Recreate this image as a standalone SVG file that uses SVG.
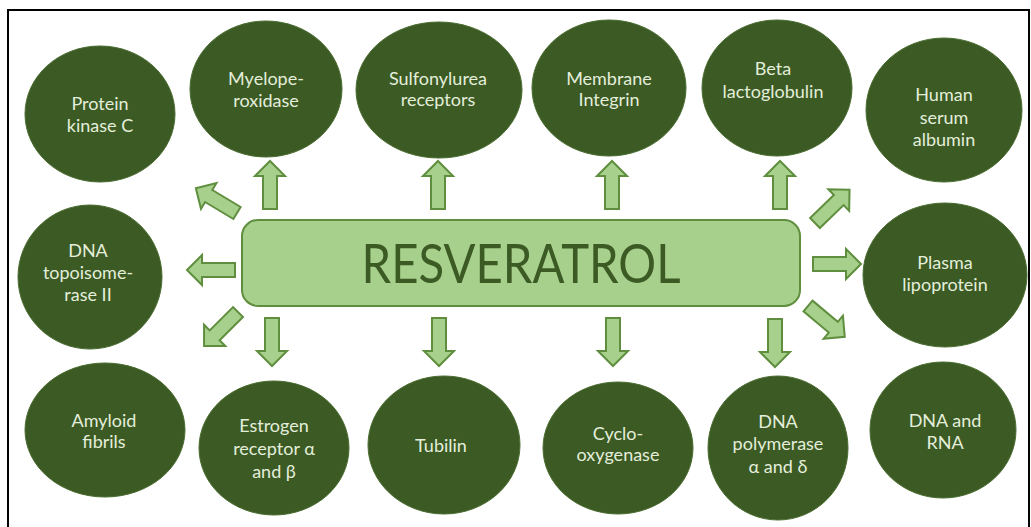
<svg xmlns="http://www.w3.org/2000/svg" width="1031" height="527" viewBox="0 0 1031 527">
<defs>
<style>
.n{fill:#3b5a24;stroke:#4b6d31;stroke-width:1}
.t{font-family:Lato,"Open Sans",sans-serif;font-size:18px;fill:#e4eedb;text-anchor:middle}
.a{fill:#a8d08d;stroke:#5f8f3e;stroke-width:2;stroke-linejoin:miter}
</style>
<path id="arr" d="M0,-7 H33 V-15 L48,0 L33,15 V7 H0 Z"/>
</defs>
<rect x="0" y="0" width="1031" height="527" fill="#fff"/>
<rect x="8" y="10" width="1021" height="530" fill="none" stroke="#000" stroke-width="2"/>

<g id="connectors">
<use href="#arr" class="a" transform="translate(270,209) rotate(-90)"/>
<use href="#arr" class="a" transform="translate(438,209) rotate(-90)"/>
<use href="#arr" class="a" transform="translate(612,209) rotate(-90)"/>
<use href="#arr" class="a" transform="translate(780,209) rotate(-90)"/>
<use href="#arr" class="a" transform="translate(272,318) rotate(90)"/>
<use href="#arr" class="a" transform="translate(439,318) rotate(90)"/>
<use href="#arr" class="a" transform="translate(613,318) rotate(90)"/>
<use href="#arr" class="a" transform="translate(775,319) rotate(90)"/>
<use href="#arr" class="a" transform="translate(235,270) rotate(180)"/>
<use href="#arr" class="a" transform="translate(813,264)"/>
<use href="#arr" class="a" transform="translate(237,213) rotate(-149)"/>
<use href="#arr" class="a" transform="translate(238,312) rotate(135)"/>
<use href="#arr" class="a" transform="translate(815,223) rotate(-44)"/>
<use href="#arr" class="a" transform="translate(808,306) rotate(40)"/>
</g>

<g id="resveratrol">
<rect x="242" y="220" width="558" height="86" rx="16" fill="#a8d08d" stroke="#5f8f3e" stroke-width="2"/>
<text x="521" y="283" font-family="Lato,'Open Sans',sans-serif" font-size="54" fill="#3b5a24" text-anchor="middle" textLength="319" lengthAdjust="spacingAndGlyphs">RESVERATROL</text>
</g>

<g id="protein-kinase-c"><ellipse class="n" cx="100" cy="114" rx="75" ry="68"/><text class="t" x="100" y="110">Protein</text><text class="t" x="100" y="132">kinase C</text></g>
<g id="myeloperoxidase"><ellipse class="n" cx="266" cy="89" rx="76" ry="68"/><text class="t" x="266" y="85">Myelope-</text><text class="t" x="266" y="107">roxidase</text></g>
<g id="sulfonylurea"><ellipse class="n" cx="439" cy="90" rx="83" ry="68"/><text class="t" x="438" y="85">Sulfonylurea</text><text class="t" x="438" y="106">receptors</text></g>
<g id="membrane-integrin"><ellipse class="n" cx="609" cy="88" rx="77" ry="68"/><text class="t" x="609" y="85">Membrane</text><text class="t" x="609" y="106">Integrin</text></g>
<g id="beta-lactoglobulin"><ellipse class="n" cx="777" cy="88" rx="75" ry="68"/><text class="t" x="773" y="75">Beta</text><text class="t" x="773" y="98">lactoglobulin</text></g>
<g id="human-serum-albumin"><ellipse class="n" cx="944" cy="110" rx="78" ry="72"/><text class="t" x="944" y="101">Human</text><text class="t" x="944" y="124">serum</text><text class="t" x="944" y="146">albumin</text></g>
<g id="dna-topoisomerase"><ellipse class="n" cx="90" cy="277" rx="72" ry="72"/><text class="t" x="88" y="257">DNA</text><text class="t" x="88" y="279">topoisome-</text><text class="t" x="88" y="301">rase II</text></g>
<g id="plasma-lipoprotein"><ellipse class="n" cx="945" cy="275" rx="82" ry="72"/><text class="t" x="945" y="269">Plasma</text><text class="t" x="945" y="291">lipoprotein</text></g>
<g id="amyloid-fibrils"><ellipse class="n" cx="105" cy="430" rx="80" ry="67"/><text class="t" x="104" y="427">Amyloid</text><text class="t" x="104" y="448">fibrils</text></g>
<g id="estrogen-receptor"><ellipse class="n" cx="274" cy="448" rx="75" ry="67"/><text class="t" x="274" y="432">Estrogen</text><text class="t" x="274" y="455">receptor α</text><text class="t" x="274" y="478">and β</text></g>
<g id="tubilin"><ellipse class="n" cx="444" cy="445" rx="76" ry="69"/><text class="t" x="441" y="452">Tubilin</text></g>
<g id="cyclo-oxygenase"><ellipse class="n" cx="618" cy="448" rx="75" ry="66"/><text class="t" x="618" y="440">Cyclo-</text><text class="t" x="618" y="461">oxygenase</text></g>
<g id="dna-polymerase"><ellipse class="n" cx="778" cy="448" rx="70" ry="72"/><text class="t" x="778" y="428">DNA</text><text class="t" x="778" y="450">polymerase</text><text class="t" x="778" y="473">α and δ</text></g>
<g id="dna-rna"><ellipse class="n" cx="943" cy="430" rx="73" ry="68"/><text class="t" x="945" y="427">DNA and</text><text class="t" x="945" y="449">RNA</text></g>
</svg>
